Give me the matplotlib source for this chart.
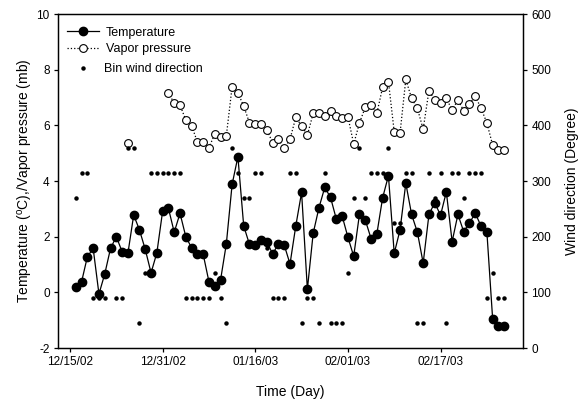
import numpy as np
import matplotlib
matplotlib.use("Agg")
import matplotlib.pyplot as plt

plt.rcParams['font.family'] = ['Liberation Sans', 'DejaVu Sans']
plt.rcParams['mathtext.fontset'] = 'custom'
plt.rcParams['mathtext.rm'] = 'Liberation Sans'
plt.rcParams['axes.unicode_minus'] = False

# days counted from 12/15/02
days = np.arange(1, 76)

temperature = [0.2, 0.38, 1.28, 1.58, -0.06, 0.66, 1.58, 2.0, 1.46, 1.4,
               2.78, 2.24, 1.54, 0.7, 1.42, 2.92, 3.02, 2.16, 2.84, 2.0,
               1.6, 1.37, 1.37, 0.38, 0.24, 0.44, 1.74, 3.88, 4.87, 2.39,
               1.72, 1.69, 1.87, 1.82, 1.38, 1.74, 1.7, 1.02, 2.39, 3.59,
               0.11, 2.12, 3.04, 3.77, 3.41, 2.63, 2.75, 1.98, 1.3, 2.81,
               2.6, 1.93, 2.1, 3.4, 4.19, 1.4, 2.24, 3.92, 2.8, 2.16,
               1.05, 2.8, 3.22, 2.77, 3.61, 1.82, 2.8, 2.18, 2.5, 2.84,
               2.38, 2.18, -0.96, -1.2, -1.21]

nan = np.nan
vapor = [nan, nan, nan, nan, nan, nan, nan, nan, nan, 5.38,
         nan, nan, nan, nan, nan, nan, 7.17, 6.79, 6.73, 6.19,
         5.98, 5.41, 5.41, 5.2, 5.69, 5.57, 5.62, 7.39, 7.17, 6.69,
         6.09, 6.05, 6.05, 5.83, 5.38, 5.5, 5.17, 5.5, 6.29, 5.98,
         5.65, 6.43, 6.43, 6.33, 6.53, 6.33, 6.25, 6.31, 5.33, 6.09,
         6.65, 6.73, 6.43, 7.37, 7.57, 5.77, 5.71, 7.65, 6.97, 6.61,
         5.86, 7.25, 6.91, 6.79, 6.97, 6.55, 6.91, 6.53, 6.77, 7.05,
         6.61, 6.09, 5.29, 5.11, 5.11]

wind = [270, 315, 315, 90, 90, 90, nan, 90, 90, 360,
        360, 45, 135, 315, 315, 315, 315, 315, 315, 90,
        90, 90, 90, 90, 135, 90, 45, 360, 315, 270,
        270, 315, 315, 180, 90, 90, 90, 315, 315, 45,
        90, 90, 45, 315, 45, 45, 45, 135, 270, 360,
        270, 315, 315, 315, 360, 225, 225, 315, 315, 45,
        45, 315, 270, 315, 45, 315, 315, 270, 315, 315,
        315, 90, 135, 90, 90]

tick_days = [0, 16, 32, 48, 64]
tick_labels = ['12/15/02', '12/31/02', '01/16/03', '02/01/03', '02/17/03']

fig = plt.figure(figsize=(5.82, 4.05), dpi=100)
ax = fig.add_axes([0.0997, 0.1407, 0.7989, 0.8247])
ax2 = ax.twinx()

l1, = ax.plot(days, temperature, color='black', lw=0.9, marker='o', ms=6,
              label='Temperature')
l2, = ax.plot(days, vapor, color='black', ls=':', lw=0.9, marker='o', ms=5.6,
              mfc='white', mec='black', mew=0.8, label='Vapor pressure')
l3, = ax2.plot(days, wind, ls='none', marker='o', ms=2.2, color='black',
               label='Bin wind direction')

ax.set_xlim(-2.07, 78.24)
ax.set_ylim(-2, 10)
ax.set_yticks(range(-2, 11, 2))
ax2.set_ylim(0, 600)
ax2.set_yticks(range(0, 601, 100))
ax.set_xticks(tick_days)
ax.set_xticklabels(tick_labels)

for a in (ax, ax2):
    a.tick_params(direction='out', length=3, width=0.9, labelsize=8.5, pad=3)
    for s in a.spines.values():
        s.set_linewidth(0.9)

ax.set_xlabel('Time (Day)', fontsize=10, labelpad=12)
ax.set_ylabel(r'Temperature ($^{\rm o}$C),/Vapor pressure (mb)', fontsize=10,
              labelpad=1)
ax2.set_ylabel('Wind direction (Degree)', fontsize=10, labelpad=10)

leg1 = ax2.legend([l1, l2], ['Temperature', 'Vapor pressure'],
                  loc='upper left', bbox_to_anchor=(0.004, 0.985), frameon=False,
                  fontsize=9, handlelength=2.5, handletextpad=0.6,
                  labelspacing=0.35, borderaxespad=0.2)
ax2.add_artist(leg1)
ax2.legend([l3], ['Bin wind direction'],
           loc='upper left', bbox_to_anchor=(0.004, 0.875), frameon=False,
           fontsize=9, handlelength=2.5, handletextpad=0.4, borderaxespad=0.2)

fig.savefig('out.png', dpi=100)
